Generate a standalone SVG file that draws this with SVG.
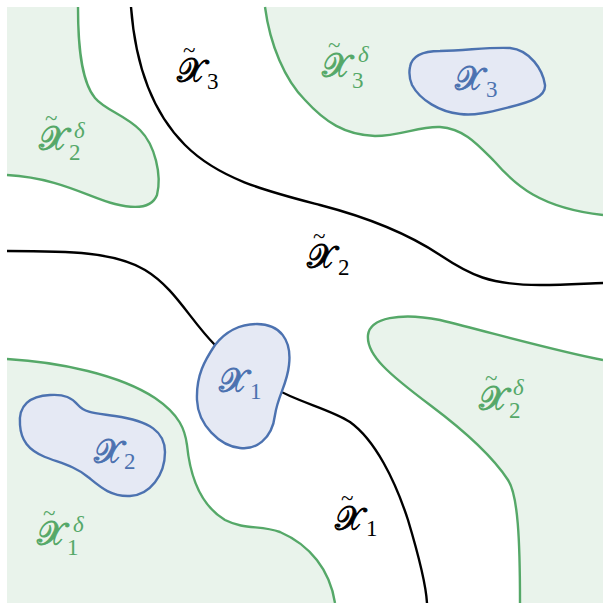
<svg xmlns="http://www.w3.org/2000/svg" width="603" height="603" viewBox="0 0 603 603">
<style>
.gfill{fill:#e9f3eb;stroke:none}
.gline{fill:none;stroke:#55a868;stroke-width:2.4}
.blob{fill:#e5e9f4;stroke:#4c72b0;stroke-width:2.4}
.bline{fill:none;stroke:#000;stroke-width:2.4}
.X{font-family:"DejaVu Serif","Noto Sans",serif;font-size:33px;stroke-width:0.9}
.s{font-family:"Liberation Serif",serif;font-size:23px}
.d{font-family:"Liberation Serif",serif;font-size:23px;font-style:italic}
.t{font-family:"Liberation Serif",serif;font-size:23px}
.k{fill:#000;stroke:#000}.g{fill:#55a868;stroke:#55a868}.b{fill:#4c72b0;stroke:#4c72b0}
text.s,text.d,text.t{stroke:none}
</style>
<rect width="603" height="603" fill="#fff"/>
<g id="region-tl">
<path class="gfill" d="M7,7 L78,7 C78,40 80,80 95,98 C105,110 125,115 140,130 C155,145 162,175 157,195 C152,208 135,209 115,204 C90,198 60,178 7,175 Z"/>
<path class="gline" d="M78,7 C78,40 80,80 95,98 C105,110 125,115 140,130 C155,145 162,175 157,195 C152,208 135,209 115,204 C90,198 60,178 7,175"/>
</g>
<g id="region-tr">
<path class="gfill" d="M265,7 C270,45 285,80 305,100 C325,122 345,135 375,136 C400,136 420,126 440,127 C465,129 478,145 495,162 C515,185 540,208 603,215 L603,7 Z"/>
<path class="gline" d="M265,7 C270,45 285,80 305,100 C325,122 345,135 375,136 C400,136 420,126 440,127 C465,129 478,145 495,162 C515,185 540,208 603,215"/>
</g>
<g id="region-bl">
<path class="gfill" d="M7,359 C60,362 120,375 155,398 C180,415 185,430 187,445 C190,475 200,505 225,520 C245,530 260,525 280,532 C310,545 330,570 335,603 L7,603 Z"/>
<path class="gline" d="M7,359 C60,362 120,375 155,398 C180,415 185,430 187,445 C190,475 200,505 225,520 C245,530 260,525 280,532 C310,545 330,570 335,603"/>
</g>
<g id="region-br">
<path class="gfill" d="M603,360 C560,352 500,335 440,320 C400,312 370,318 368,335 C366,355 390,375 430,405 C470,435 495,460 508,480 C518,495 520,540 520,603 L603,603 Z"/>
<path class="gline" d="M603,360 C560,352 500,335 440,320 C400,312 370,318 368,335 C366,355 390,375 430,405 C470,435 495,460 508,480 C518,495 520,540 520,603"/>
</g>
<g id="boundaries">
<path class="bline" d="M131,7 C135,60 150,110 185,145 C220,180 270,192 320,205 C370,218 410,235 440,255 C470,275 490,285 540,285 C570,285 590,283 603,283"/>
<path class="bline" d="M7,251 C70,251 115,252 145,270 C175,288 190,320 215,345 C235,365 260,383 290,396 C310,405 335,412 350,422 C375,440 395,480 408,520 C420,560 426,585 427,603"/>
</g>
<g id="X1">
<path class="blob" d="M257,324 C280,324 292,340 289,365 C287,385 278,395 275,415 C272,440 255,450 240,448 C220,446 198,425 197,400 C196,375 205,360 215,345 C225,332 240,324 257,324 Z"/>
<text class="X b" x="219" y="392">𝒳</text><text class="s b" x="250" y="399">1</text>
</g>
<g id="X2">
<path class="blob" d="M20,425 C18,405 30,396 50,395 C65,394 72,398 78,405 C85,413 95,413 115,416 C150,421 165,432 165,452 C165,475 150,495 130,496 C110,497 98,485 88,477 C75,466 60,463 45,457 C28,450 21,440 20,425 Z"/>
<text class="X b" x="94" y="463">𝒳</text><text class="s b" x="124" y="469">2</text>
</g>
<g id="X3">
<path class="blob" d="M410,67 C412,55 425,51 440,51 C470,50 490,47 510,48 C530,50 543,70 545,85 C546,97 530,102 510,107 C490,112 475,116 460,114 C440,112 420,100 412,85 C409,78 409,72 410,67 Z"/>
<text class="X b" x="455" y="90">𝒳</text><text class="s b" x="486" y="97">3</text>
</g>
<g id="labels">
<text class="X k" x="177" y="82">𝒳</text><text class="t k" x="183" y="58">~</text><text class="s k" x="207" y="89">3</text>
<text class="X k" x="307" y="268">𝒳</text><text class="t k" x="313" y="244">~</text><text class="s k" x="338" y="275">2</text>
<text class="X k" x="335" y="530">𝒳</text><text class="t k" x="341" y="506">~</text><text class="s k" x="366" y="536">1</text>
<text class="X g" x="39" y="150">𝒳</text><text class="t g" x="45" y="126">~</text><text class="s g" x="69" y="160">2</text><text class="d g" x="74" y="138">δ</text>
<text class="X g" x="322" y="77">𝒳</text><text class="t g" x="328" y="53">~</text><text class="s g" x="352" y="88">3</text><text class="d g" x="358" y="62">δ</text>
<text class="X g" x="479" y="410">𝒳</text><text class="t g" x="485" y="386">~</text><text class="s g" x="509" y="418">2</text><text class="d g" x="513" y="395">δ</text>
<text class="X g" x="37" y="545">𝒳</text><text class="t g" x="43" y="521">~</text><text class="s g" x="67" y="555">1</text><text class="d g" x="73" y="532">δ</text>
</g>
</svg>
